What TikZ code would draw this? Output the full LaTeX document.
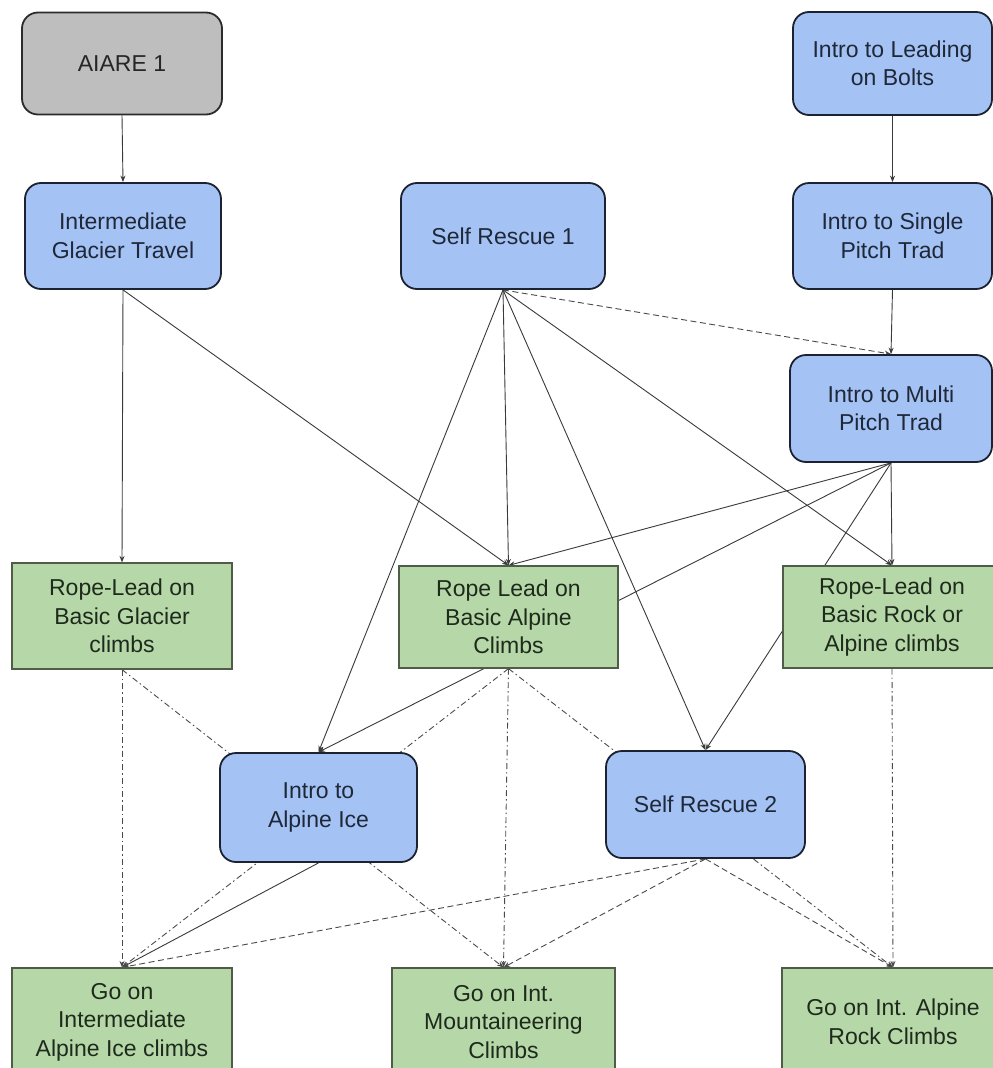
\documentclass[tikz,border=0pt]{standalone}
\usepackage{fontspec}
\setmainfont{Liberation Sans}
\usetikzlibrary{arrows.meta,backgrounds}
\definecolor{bluefill}{HTML}{A4C2F4}
\definecolor{blueedge}{HTML}{1C2230}
\definecolor{bluetext}{HTML}{1F2838}
\definecolor{grayfill}{HTML}{BEBEBE}
\definecolor{grayedge}{HTML}{2B2B2B}
\definecolor{graytext}{HTML}{262626}
\definecolor{greenfill}{HTML}{B6D7A8}
\definecolor{greenedge}{HTML}{4E5C48}
\definecolor{greentext}{HTML}{1E2A1C}
\definecolor{linecol}{HTML}{3A3A3A}
\definecolor{dashcol}{HTML}{4A4A4A}
\begin{document}
\begin{tikzpicture}[x=1pt,y=-1pt,
  box/.style={inner sep=0pt, align=center, font=\fontsize{23}{28.5}\selectfont},
  bluebox/.style={box, rounded corners=16pt, fill=bluefill, draw=blueedge, line width=1.8pt, text=bluetext},
  graybox/.style={box, rounded corners=16pt, fill=grayfill, draw=grayedge, line width=1.8pt, text=graytext},
  greenbox/.style={box, fill=greenfill, draw=greenedge, line width=1.2pt, text=greentext},
  conn/.style={draw=linecol, line width=0.9pt, -{Stealth[length=6.5pt,width=5pt]}},
  dashedconn/.style={conn, draw=dashcol, dash pattern=on 6pt off 3.5pt},
  dashdotconn/.style={conn, draw=dashcol, dash pattern=on 6pt off 3pt on 1.5pt off 3pt}
]
\useasboundingbox (0,0) rectangle (993,1068);
\begin{scope}
\clip (0,0) rectangle (993,1068);
% top row
\node[graybox, minimum width=200pt, minimum height=102pt] (aiare) at (122,63.5) {AIARE 1};
\node[bluebox, minimum width=199pt, minimum height=103pt] (bolts) at (892.5,63.5) {Intro to Leading\\on Bolts};
% second row
\node[bluebox, minimum width=196pt, minimum height=106pt] (igt) at (123,236) {Intermediate\\Glacier Travel};
\node[bluebox, minimum width=204pt, minimum height=106pt] (sr1) at (503,236) {Self Rescue 1};
\node[bluebox, minimum width=199pt, minimum height=106pt] (spt) at (892.5,236) {Intro to Single\\Pitch Trad};
% third
\node[bluebox, minimum width=202pt, minimum height=107pt] (mpt) at (891,408.5) {Intro to Multi\\Pitch Trad};
% rope lead row
\node[greenbox, minimum width=220pt, minimum height=106pt] (rlg) at (122,616) {Rope-Lead on\\Basic Glacier\\climbs};
\node[greenbox, minimum width=219pt, minimum height=102pt] (rla) at (508.5,617) {Rope Lead on\\Basic Alpine\\Climbs};
\node[greenbox, minimum width=218pt, minimum height=102pt] (rlr) at (892,617) {Rope-Lead on\\Basic Rock or\\Alpine climbs};
% intro ice / self rescue 2
\node[bluebox, minimum width=197pt, minimum height=109pt] (ice) at (318.5,807.5) {Intro to\\Alpine Ice};
\node[bluebox, minimum width=199pt, minimum height=107pt] (sr2) at (705.5,804.5) {Self Rescue 2};
% bottom row
\node[greenbox, minimum width=220pt, minimum height=108pt] (goi) at (122,1022) {Go on\\Intermediate\\Alpine Ice climbs};
\node[greenbox, minimum width=223pt, minimum height=108pt] (gom) at (503.5,1022) {Go on Int.\\Mountaineering\\Climbs};
\node[greenbox, minimum width=222pt, minimum height=108pt] (gor) at (893,1022) {Go on Int. Alpine\\Rock Climbs};
\end{scope}
\begin{pgfonlayer}{background}
\fill[white] (0,0) rectangle (993,1068);
% solid
\draw[conn] (aiare.south) -- (igt.north);
\draw[conn] (bolts.south) -- (spt.north);
\draw[conn] (spt.south) -- (mpt.north);
\draw[conn] (igt.south) -- (rlg.north);
\draw[conn] (igt.south) -- (rla.north);
\draw[conn] (sr1.south) -- (rla.north);
\draw[conn] (sr1.south) -- (ice.north);
\draw[conn] (sr1.south) -- (sr2.north);
\draw[conn] (sr1.south) -- (rlr.north);
\draw[conn] (mpt.south) -- (rla.north);
\draw[conn] (mpt.south) -- (ice.north);
\draw[conn] (mpt.south) -- (rlr.north);
\draw[conn] (mpt.south) -- (sr2.north);
\draw[conn] (ice.south) -- (goi.north);
% dashed
\draw[dashedconn] (sr1.south) -- (mpt.north);
\draw[dashedconn] (sr2.south) -- (goi.north);
\draw[dashedconn] (sr2.south) -- (gom.north);
\draw[dashedconn] (sr2.south) -- (gor.north);
% dash-dot
\draw[dashdotconn] (rlg.south) -- (goi.north);
\draw[dashdotconn] (rlg.south) -- (gom.north);
\draw[dashdotconn] (rla.south) -- (goi.north);
\draw[dashdotconn] (rla.south) -- (gom.north);
\draw[dashdotconn] (rla.south) -- (gor.north);
\draw[dashdotconn] (rlr.south) -- (gor.north);
\end{pgfonlayer}
\end{tikzpicture}
\end{document}
